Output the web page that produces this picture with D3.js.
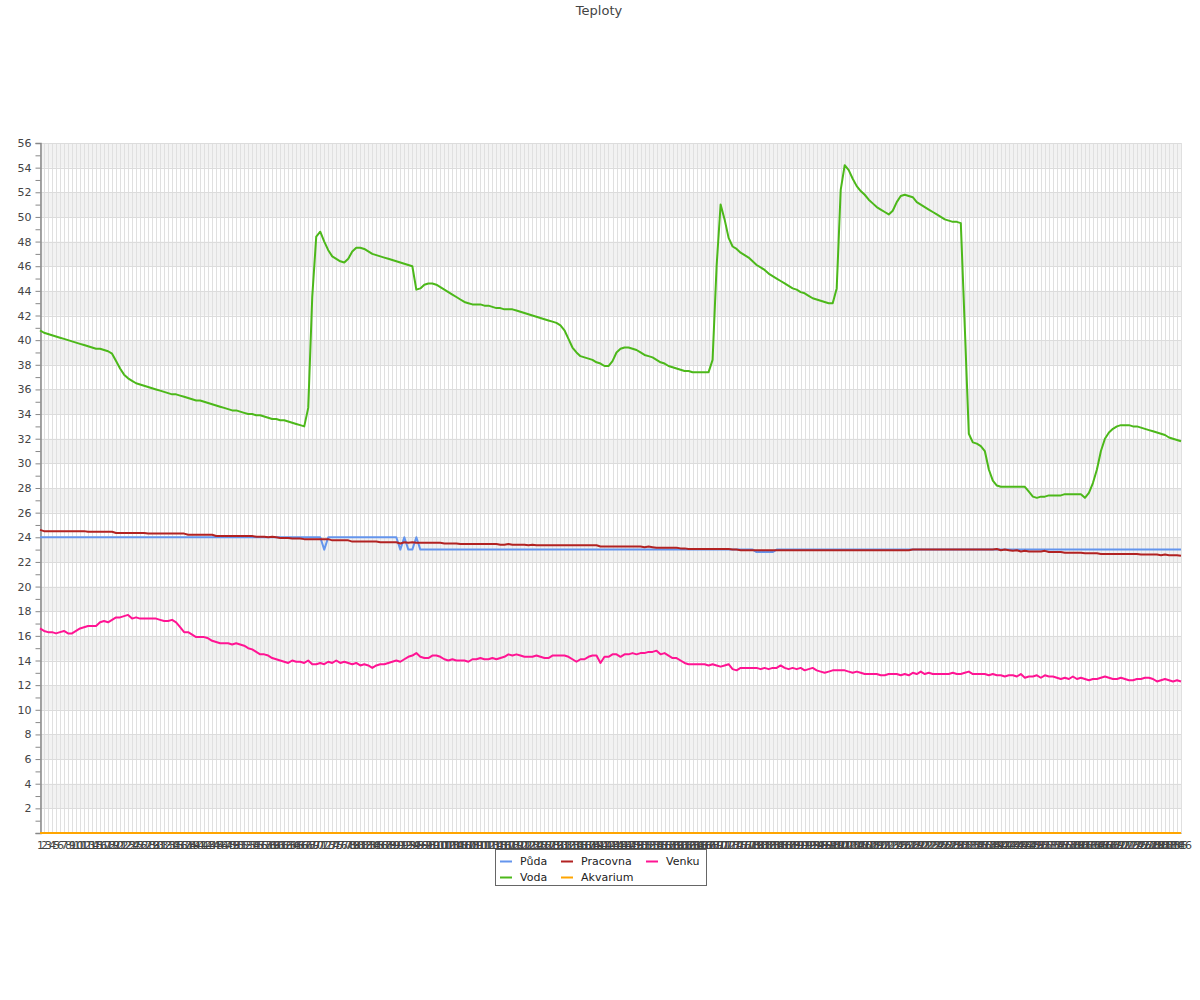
<!DOCTYPE html>
<html><head><meta charset="utf-8">
<script src="https://cdn.jsdelivr.net/npm/d3@7"></script>
<style>body{margin:0;background:#fff} text{font-family:"DejaVu Sans",sans-serif}</style>
</head><body><svg id="c" width="1200" height="1000"></svg>
<script>
const categories = d3.range(1, 287).map(String);
const yTickValues = [2,4,6,8,10,12,14,16,18,20,22,24,26,28,30,32,34,36,38,40,42,44,46,48,50,52,54,56];
const seriesNames = ["Půda","Voda","Pracovna","Akvarium","Venku"];
const seriesColors = ["#6495ed","#4cb81a","#b22222","#ffa500","#ff1493"];

const puda = [
24,24,24,24,24,24,24,24,24,24, 24,24,24,24,24,24,24,24,24,24,
24,24,24,24,24,24,24,24,24,24, 24,24,24,24,24,24,24,24,24,24,
24,24,24,24,24,24,24,24,24,24, 24,24,24,24,24,24,24,24,24,24,
24,24,24,24,24,24,24,24,24,24, 24,23,24,24,24,24,24,24,24,24,
24,24,24,24,24,24,24,24,24,24, 23,24,23,23,24,23,23,23,23,23,
23,23,23,23,23,23,23,23,23,23, 23,23,23,23,23,23,23,23,23,23,
23,23,23,23,23,23,23,23,23,23, 23,23,23,23,23,23,23,23,23,23,
23,23,23,23,23,23,23,23,23,23, 23,23,23,23,23,23,23,23,23,23,
23,23,23,23,23,23,23,23,23,23, 23,23,23,23,23,23,23,23,23,22.8,
22.8,22.8,22.8,22.8,23,23,23,23,23,23, 23,23,23,23,23,23,23,23,23,23,
23,23,23,23,23,23,23,23,23,23, 23,23,23,23,23,23,23,23,23,23,
23,23,23,23,23,23,23,23,23,23, 23,23,23,23,23,23,23,23,23,23,
23,23,23,23,23,23,23,23,23,23, 23,23,23,23,23,23,23,23,23,23,
23,23,23,23,23,23,23,23,23,23, 23,23,23,23,23,23,23,23,23,23,
23,23,23,23,23,23
];

const voda = [
40.8,40.6,40.5,40.4,40.3,40.2,40.1,40.0,39.9,39.8,
39.7,39.6,39.5,39.4,39.3,39.3,39.2,39.1,38.9,38.3,
37.7,37.2,36.9,36.7,36.5,36.4,36.3,36.2,36.1,36.0,
35.9,35.8,35.7,35.6,35.6,35.5,35.4,35.3,35.2,35.1,
35.1,35.0,34.9,34.8,34.7,34.6,34.5,34.4,34.3,34.3,
34.2,34.1,34.0,34.0,33.9,33.9,33.8,33.7,33.6,33.6,
33.5,33.5,33.4,33.3,33.2,33.1,33.0,34.5,43.5,48.4,
48.8,48.0,47.3,46.8,46.6,46.4,46.3,46.6,47.2,47.5,
47.5,47.4,47.2,47.0,46.9,46.8,46.7,46.6,46.5,46.4,
46.3,46.2,46.1,46.0,44.1,44.2,44.5,44.6,44.6,44.5,
44.3,44.1,43.9,43.7,43.5,43.3,43.1,43.0,42.9,42.9,
42.9,42.8,42.8,42.7,42.6,42.6,42.5,42.5,42.5,42.4,
42.3,42.2,42.1,42.0,41.9,41.8,41.7,41.6,41.5,41.4,
41.2,40.8,40.1,39.4,39.0,38.7,38.6,38.5,38.4,38.2,
38.1,37.9,37.9,38.3,39.0,39.3,39.4,39.4,39.3,39.2,
39.0,38.8,38.7,38.6,38.4,38.2,38.1,37.9,37.8,37.7,
37.6,37.5,37.5,37.4,37.4,37.4,37.4,37.4,38.4,46.0,
51.0,49.8,48.3,47.6,47.4,47.1,46.9,46.7,46.4,46.1,
45.9,45.7,45.4,45.2,45.0,44.8,44.6,44.4,44.2,44.1,
43.9,43.8,43.6,43.4,43.3,43.2,43.1,43.0,43.0,44.2,
52.2,54.2,53.8,53.1,52.5,52.1,51.8,51.4,51.1,50.8,
50.6,50.4,50.2,50.5,51.2,51.7,51.8,51.7,51.6,51.2,
51.0,50.8,50.6,50.4,50.2,50.0,49.8,49.7,49.6,49.6,
49.5,41.0,32.4,31.7,31.6,31.4,31.0,29.5,28.6,28.2,
28.1,28.1,28.1,28.1,28.1,28.1,28.1,27.7,27.3,27.2,
27.3,27.3,27.4,27.4,27.4,27.4,27.5,27.5,27.5,27.5,
27.5,27.2,27.6,28.4,29.5,31.0,32.0,32.5,32.8,33.0,
33.1,33.1,33.1,33.0,33.0,32.9,32.8,32.7,32.6,32.5,
32.4,32.3,32.1,32.0,31.9,31.8
];

const pracovna = [
24.6,24.5,24.5,24.5,24.5,24.5,24.5,24.5,24.5,24.5,
24.5,24.5,24.45,24.45,24.45,24.45,24.45,24.45,24.45,24.35,
24.35,24.35,24.35,24.35,24.35,24.35,24.35,24.3,24.3,24.3,
24.3,24.3,24.3,24.3,24.3,24.3,24.3,24.2,24.2,24.2,
24.2,24.2,24.2,24.2,24.1,24.1,24.1,24.1,24.1,24.1,
24.1,24.1,24.1,24.1,24.05,24.05,24.05,24.0,24.05,24.0,
23.95,23.95,23.95,23.9,23.9,23.9,23.85,23.85,23.85,23.85,
23.85,23.85,23.85,23.75,23.75,23.75,23.75,23.75,23.65,23.65,
23.65,23.65,23.65,23.65,23.65,23.6,23.6,23.6,23.6,23.6,
23.5,23.6,23.55,23.6,23.55,23.55,23.55,23.55,23.55,23.55,
23.55,23.5,23.5,23.5,23.5,23.45,23.45,23.45,23.45,23.45,
23.45,23.45,23.45,23.45,23.45,23.4,23.4,23.45,23.4,23.4,
23.4,23.4,23.35,23.4,23.35,23.35,23.35,23.35,23.35,23.35,
23.35,23.35,23.35,23.35,23.35,23.35,23.35,23.35,23.35,23.35,
23.25,23.25,23.25,23.25,23.25,23.25,23.25,23.25,23.25,23.25,
23.25,23.2,23.25,23.2,23.15,23.15,23.15,23.15,23.15,23.15,
23.1,23.1,23.05,23.05,23.05,23.05,23.05,23.05,23.05,23.05,
23.05,23.05,23.05,23.0,23.0,22.95,22.95,22.95,22.95,22.95,
22.95,22.95,22.95,22.95,22.95,22.95,22.95,22.95,22.95,22.95,
22.95,22.95,22.95,22.95,22.95,22.95,22.95,22.95,22.95,22.95,
22.95,22.95,22.95,22.95,22.95,22.95,22.95,22.95,22.95,22.95,
22.95,22.95,22.95,22.95,22.95,22.95,22.95,22.95,23.0,23.0,
23.0,23.0,23.0,23.0,23.0,23.0,23.0,23.0,23.0,23.0,
23.0,23.0,23.0,23.0,23.0,23.0,23.0,23.0,23.0,23.05,
22.95,23.0,22.95,22.9,22.95,22.85,22.9,22.85,22.85,22.85,
22.85,22.9,22.8,22.8,22.8,22.8,22.75,22.75,22.75,22.75,
22.75,22.7,22.7,22.7,22.7,22.65,22.65,22.65,22.65,22.65,
22.65,22.65,22.65,22.65,22.65,22.6,22.6,22.6,22.6,22.6,
22.55,22.6,22.55,22.55,22.55,22.5
];

const akvarium = [
0,0,0,0,0,0,0,0,0,0,
0,0,0,0,0,0,0,0,0,0,
0,0,0,0,0,0,0,0,0,0,
0,0,0,0,0,0,0,0,0,0,
0,0,0,0,0,0,0,0,0,0,
0,0,0,0,0,0,0,0,0,0,
0,0,0,0,0,0,0,0,0,0,
0,0,0,0,0,0,0,0,0,0,
0,0,0,0,0,0,0,0,0,0,
0,0,0,0,0,0,0,0,0,0,
0,0,0,0,0,0,0,0,0,0,
0,0,0,0,0,0,0,0,0,0,
0,0,0,0,0,0,0,0,0,0,
0,0,0,0,0,0,0,0,0,0,
0,0,0,0,0,0,0,0,0,0,
0,0,0,0,0,0,0,0,0,0,
0,0,0,0,0,0,0,0,0,0,
0,0,0,0,0,0,0,0,0,0,
0,0,0,0,0,0,0,0,0,0,
0,0,0,0,0,0,0,0,0,0,
0,0,0,0,0,0,0,0,0,0,
0,0,0,0,0,0,0,0,0,0,
0,0,0,0,0,0,0,0,0,0,
0,0,0,0,0,0,0,0,0,0,
0,0,0,0,0,0,0,0,0,0,
0,0,0,0,0,0,0,0,0,0,
0,0,0,0,0,0,0,0,0,0,
0,0,0,0,0,0,0,0,0,0,
0,0,0,0,0,0
];

const venku = [
16.6,16.4,16.3,16.3,16.2,16.3,16.4,16.2,16.2,16.4,
16.6,16.7,16.8,16.8,16.8,17.1,17.2,17.1,17.3,17.5,
17.5,17.6,17.7,17.4,17.5,17.4,17.4,17.4,17.4,17.4,
17.3,17.2,17.2,17.3,17.1,16.7,16.3,16.3,16.1,15.9,
15.9,15.9,15.8,15.6,15.5,15.4,15.4,15.4,15.3,15.4,
15.3,15.2,15.0,14.9,14.7,14.5,14.5,14.4,14.2,14.1,
14.0,13.9,13.8,14.0,13.9,13.9,13.8,14.0,13.7,13.7,
13.8,13.7,13.9,13.8,14.0,13.8,13.9,13.8,13.7,13.8,
13.6,13.7,13.6,13.4,13.6,13.7,13.7,13.8,13.9,14.0,
13.9,14.1,14.3,14.4,14.6,14.3,14.2,14.2,14.4,14.4,
14.3,14.1,14.0,14.1,14.0,14.0,14.0,13.9,14.1,14.1,
14.2,14.1,14.1,14.2,14.1,14.2,14.3,14.5,14.4,14.5,
14.4,14.3,14.3,14.3,14.4,14.3,14.2,14.2,14.4,14.4,
14.4,14.4,14.3,14.1,13.9,14.1,14.1,14.3,14.4,14.4,
13.8,14.3,14.3,14.5,14.5,14.3,14.5,14.5,14.6,14.5,
14.6,14.6,14.7,14.7,14.8,14.5,14.6,14.4,14.2,14.2,
14.0,13.8,13.7,13.7,13.7,13.7,13.7,13.6,13.7,13.6,
13.5,13.6,13.7,13.3,13.2,13.4,13.4,13.4,13.4,13.4,
13.3,13.4,13.3,13.4,13.4,13.6,13.4,13.3,13.4,13.3,
13.4,13.2,13.3,13.4,13.2,13.1,13.0,13.1,13.2,13.2,
13.2,13.2,13.1,13.0,13.1,13.0,12.9,12.9,12.9,12.9,
12.8,12.8,12.9,12.9,12.9,12.8,12.9,12.8,13.0,12.9,
13.1,12.9,13.0,12.9,12.9,12.9,12.9,12.9,13.0,12.9,
12.9,13.0,13.1,12.9,12.9,12.9,12.9,12.8,12.9,12.8,
12.8,12.7,12.8,12.8,12.7,12.9,12.6,12.7,12.7,12.8,
12.6,12.8,12.7,12.7,12.6,12.5,12.6,12.5,12.7,12.5,
12.6,12.5,12.4,12.5,12.5,12.6,12.7,12.6,12.5,12.5,
12.6,12.5,12.4,12.4,12.5,12.5,12.6,12.6,12.5,12.3,
12.4,12.5,12.4,12.3,12.4,12.3
];

const seriesData = [puda, voda, pracovna, akvarium, venku];

const svg = d3.select("#c");
const pLeft = 40, pRight = 1181, pTop = 143, pBottom = 833;
const x = d3.scalePoint().domain(categories).range([pLeft, pRight]);
const y = d3.scaleLinear().domain([0, 56]).range([pBottom, pTop]);

// bands
const bandStarts = d3.range(0, 56, 2);
svg.append("g").selectAll("rect").data(bandStarts.filter(v => (v / 2) % 2 === 1)).join("rect")
  .attr("x", pLeft).attr("width", pRight - pLeft)
  .attr("y", d => y(d + 2)).attr("height", d => y(d) - y(d + 2))
  .attr("fill", "#f2f2f2");

// vertical grid
svg.append("g").selectAll("line").data(categories).join("line")
  .attr("x1", d => Math.round(x(d)) + 0.5).attr("x2", d => Math.round(x(d)) + 0.5)
  .attr("y1", pTop).attr("y2", pBottom)
  .attr("stroke", "#e0e0e0").attr("stroke-width", 1);

// horizontal grid
svg.append("g").selectAll("line").data(yTickValues).join("line")
  .attr("x1", pLeft).attr("x2", pRight)
  .attr("y1", d => Math.round(y(d)) + 0.5).attr("y2", d => Math.round(y(d)) + 0.5)
  .attr("stroke", "#dcdcdc").attr("stroke-width", 1);

// y axis
const yAxis = d3.axisLeft(y).tickValues(d3.range(0, 57, 1)).tickSize(5)
  .tickFormat(d => (yTickValues.includes(d) ? String(d) : ""));
const gy = svg.append("g").attr("transform", `translate(${pLeft + 0.5},0)`).call(yAxis);
gy.select(".domain").attr("stroke", "#888").attr("stroke-width", 1.5);
gy.selectAll(".tick line").attr("stroke", "#888");
gy.selectAll(".tick text").attr("font-size", 11).attr("fill", "#444").attr("font-family", "DejaVu Sans").attr("x", -9);

// x axis labels
const xAxis = d3.axisBottom(x).tickSize(0).tickPadding(8);
const gx = svg.append("g").attr("transform", `translate(0,${pBottom})`).call(xAxis);
gx.select(".domain").attr("stroke", "#888");
gx.selectAll(".tick text").attr("font-size", 11).attr("fill", "#444").attr("font-family", "DejaVu Sans");

// lines
const line = d3.line().x((d, i) => x(categories[i])).y(d => y(d)).curve(d3.curveLinear);
seriesData.forEach((s, k) => {
  svg.append("path").datum(s).attr("d", line)
    .attr("fill", "none").attr("stroke", seriesColors[k]).attr("stroke-width", 2)
    .attr("stroke-linejoin", "round");
});

// title
svg.append("text").attr("x", 599).attr("y", 15).attr("text-anchor", "middle")
  .attr("font-size", 13).attr("fill", "#444").text("Teploty");

// legend
const lg = svg.append("g");
lg.append("rect").attr("x", 495.5).attr("y", 849.5).attr("width", 211).attr("height", 36)
  .attr("fill", "#fff").attr("stroke", "#666");
const colX = [500, 561, 646];
const rowY = [861.5, 877.5];
seriesNames.forEach((name, k) => {
  const col = Math.floor(k / 2), row = k % 2;
  lg.append("line").attr("x1", colX[col]).attr("x2", colX[col] + 12)
    .attr("y1", rowY[row]).attr("y2", rowY[row])
    .attr("stroke", seriesColors[k]).attr("stroke-width", 2);
  lg.append("text").attr("x", colX[col] + 20).attr("y", rowY[row] + 3.5)
    .attr("font-size", 11).attr("fill", "#222").text(name);
});
</script></body></html>
